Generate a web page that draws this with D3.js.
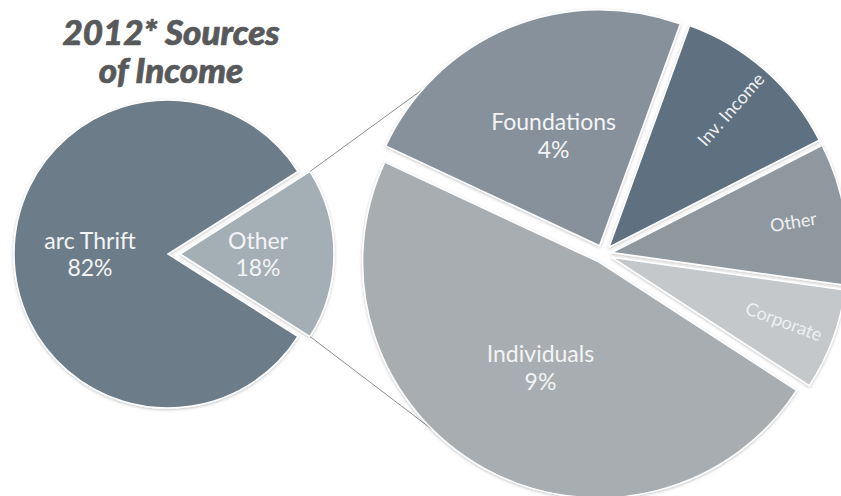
<!DOCTYPE html>
<html><head><meta charset="utf-8">
<style>
body { margin: 0; background: #fff; }
svg { display: block; font-family: Lato, "Open Sans", sans-serif; }
.title { fill: #58595b; stroke: #58595b; stroke-width: 0.7px; font-weight: 900; font-style: italic; font-size: 35px; }
.lbl { fill: #f3f4f5; font-size: 23px; }
.small { fill: #eef0f1; font-size: 18px; }
</style>
</head>
<body>
<svg width="841" height="496"></svg>
<script src="https://cdn.jsdelivr.net/npm/d3@7"></script>
<script>

var titleLines = ["2012* Sources", "of Income"];

// left pie
var mainNames = ["Other", "arc Thrift"];
var mainValues = [18, 82];
var mainColors = ["#a4aeb5", "#6c7c88"];

// right pie = breakdown of "Other"
var subNames = ["Inv. Income", "Other", "Corporate", "Individuals", "Foundations"];
var subValues = [2.15, 1.75, 1.25, 8.6, 4.25];
var subColors = ["#5e7180", "#90989f", "#c4c8cb", "#a8adb1", "#86919b"];
var subShowPct = [false, false, false, true, true];

var svg = d3.select("svg");
var rad = Math.PI / 180;

var defs = svg.append("defs");
var f = defs.append("filter").attr("id", "shadow")
    .attr("x", "-10%").attr("y", "-10%").attr("width", "120%").attr("height", "120%");
f.append("feDropShadow").attr("dx", 0).attr("dy", 1).attr("stdDeviation", 1.5)
    .attr("flood-color", "#000").attr("flood-opacity", 0.25);

// title
svg.append("text").attr("class", "title")
    .attr("text-anchor", "middle")
  .selectAll("tspan")
  .data(titleLines)
  .enter().append("tspan")
    .attr("x", 171)
    .attr("y", function(d, i) { return 45 + i * 38; })
    .text(function(d) { return d; });

function offset(d, dist) {
  var a = (d.startAngle + d.endAngle) / 2 - Math.PI / 2;
  return [Math.cos(a) * dist, Math.sin(a) * dist];
}

// ---- left pie
var L = {cx: 168, cy: 254, r: 154, explode: 12, labelR: 78};
var otherFrac = mainValues[0] / d3.sum(mainValues);
var mainPie = d3.pie().sort(null).value(function(d) { return d; })
    .startAngle(Math.PI / 2 - Math.PI * otherFrac)
    .endAngle(Math.PI / 2 - Math.PI * otherFrac + 2 * Math.PI);
var mainArcs = mainPie(mainValues);
var arcL = d3.arc().innerRadius(0).outerRadius(L.r);

var gL = svg.append("g").attr("transform", "translate(" + L.cx + "," + L.cy + ")");

var sliceL = gL.selectAll("g.slice")
  .data(mainArcs)
  .enter().append("g")
    .attr("class", "slice")
    .attr("transform", function(d, i) {
      var o = offset(d, i === 0 ? L.explode : 0);
      return "translate(" + o[0] + "," + o[1] + ")";
    });

sliceL.append("path")
    .attr("d", arcL)
    .attr("fill", function(d, i) { return mainColors[i]; })
    .attr("stroke", "#fff")
    .attr("stroke-width", 1.5)
    .attr("filter", "url(#shadow)");

sliceL.append("text")
    .attr("class", "lbl")
    .attr("text-anchor", "middle")
    .attr("transform", function(d) {
      var o = offset(d, L.labelR);
      return "translate(" + o[0] + "," + o[1] + ")";
    })
  .selectAll("tspan")
  .data(function(d, i) { return [mainNames[i], d.value + "%"]; })
  .enter().append("tspan")
    .attr("x", 0)
    .attr("y", function(d, i) { return -5 + i * 27; })
    .text(function(d) { return d; });

// ---- right pie
var R = {cx: 603, cy: 254, r: 236, explode: 9, labelR: 120, smallR: 184};
var subPie = d3.pie().sort(null).value(function(d) { return d; })
    .startAngle(20 * rad).endAngle(380 * rad);
var subArcs = subPie(subValues);
var arcR = d3.arc().innerRadius(0).outerRadius(R.r);

// connector lines from the exploded "Other" slice to the breakdown pie
var oOff = offset(mainArcs[0], L.explode);
var linkStart = [mainArcs[0].startAngle, mainArcs[0].endAngle];
var linkSlice = [4, 3];
var linkEnd = [311.5 * rad, 224.5 * rad];
var links = linkStart.map(function(a, i) {
  var s = subArcs[linkSlice[i]], so = offset(s, R.explode);
  return [
    [L.cx + oOff[0] + Math.sin(a) * L.r, L.cy + oOff[1] - Math.cos(a) * L.r],
    [R.cx + so[0] + Math.sin(linkEnd[i]) * R.r, R.cy + so[1] - Math.cos(linkEnd[i]) * R.r]
  ];
});
svg.append("g").selectAll("line")
  .data(links)
  .enter().append("line")
    .attr("x1", function(d) { return d[0][0]; })
    .attr("y1", function(d) { return d[0][1]; })
    .attr("x2", function(d) { return d[1][0]; })
    .attr("y2", function(d) { return d[1][1]; })
    .attr("stroke", "#8a8f93")
    .attr("stroke-width", 1);

var gR = svg.append("g").attr("transform", "translate(" + R.cx + "," + R.cy + ")");

var sliceR = gR.selectAll("g.slice")
  .data(subArcs)
  .enter().append("g")
    .attr("class", "slice")
    .attr("transform", function(d) {
      var o = offset(d, R.explode);
      return "translate(" + o[0] + "," + o[1] + ")";
    });

sliceR.append("path")
    .attr("d", arcR)
    .attr("fill", function(d, i) { return subColors[i]; })
    .attr("stroke", "#fff")
    .attr("stroke-width", 1.5)
    .attr("filter", "url(#shadow)");

// two-line labels (name + percent)
sliceR.filter(function(d, i) { return subShowPct[i]; })
  .append("text")
    .attr("class", "lbl")
    .attr("text-anchor", "middle")
    .attr("transform", function(d) {
      var o = offset(d, R.labelR);
      return "translate(" + o[0] + "," + o[1] + ")";
    })
  .selectAll("tspan")
  .data(function(d) { var i = d.index; return [subNames[i], d3.format(".0f")(subValues[i]) + "%"]; })
  .enter().append("tspan")
    .attr("x", 0)
    .attr("y", function(d, i) { return -5 + i * 28; })
    .text(function(d) { return d; });

// small radial labels
sliceR.filter(function(d, i) { return !subShowPct[i]; })
  .append("text")
    .attr("class", "small")
    .attr("text-anchor", "middle")
    .attr("dy", "0.35em")
    .attr("transform", function(d) {
      var o = offset(d, R.smallR);
      var a = (d.startAngle + d.endAngle) / 2 / rad - 90;
      return "translate(" + o[0] + "," + o[1] + ") rotate(" + a + ")";
    })
    .text(function(d) { return subNames[d.index]; });

</script>
</body></html>
